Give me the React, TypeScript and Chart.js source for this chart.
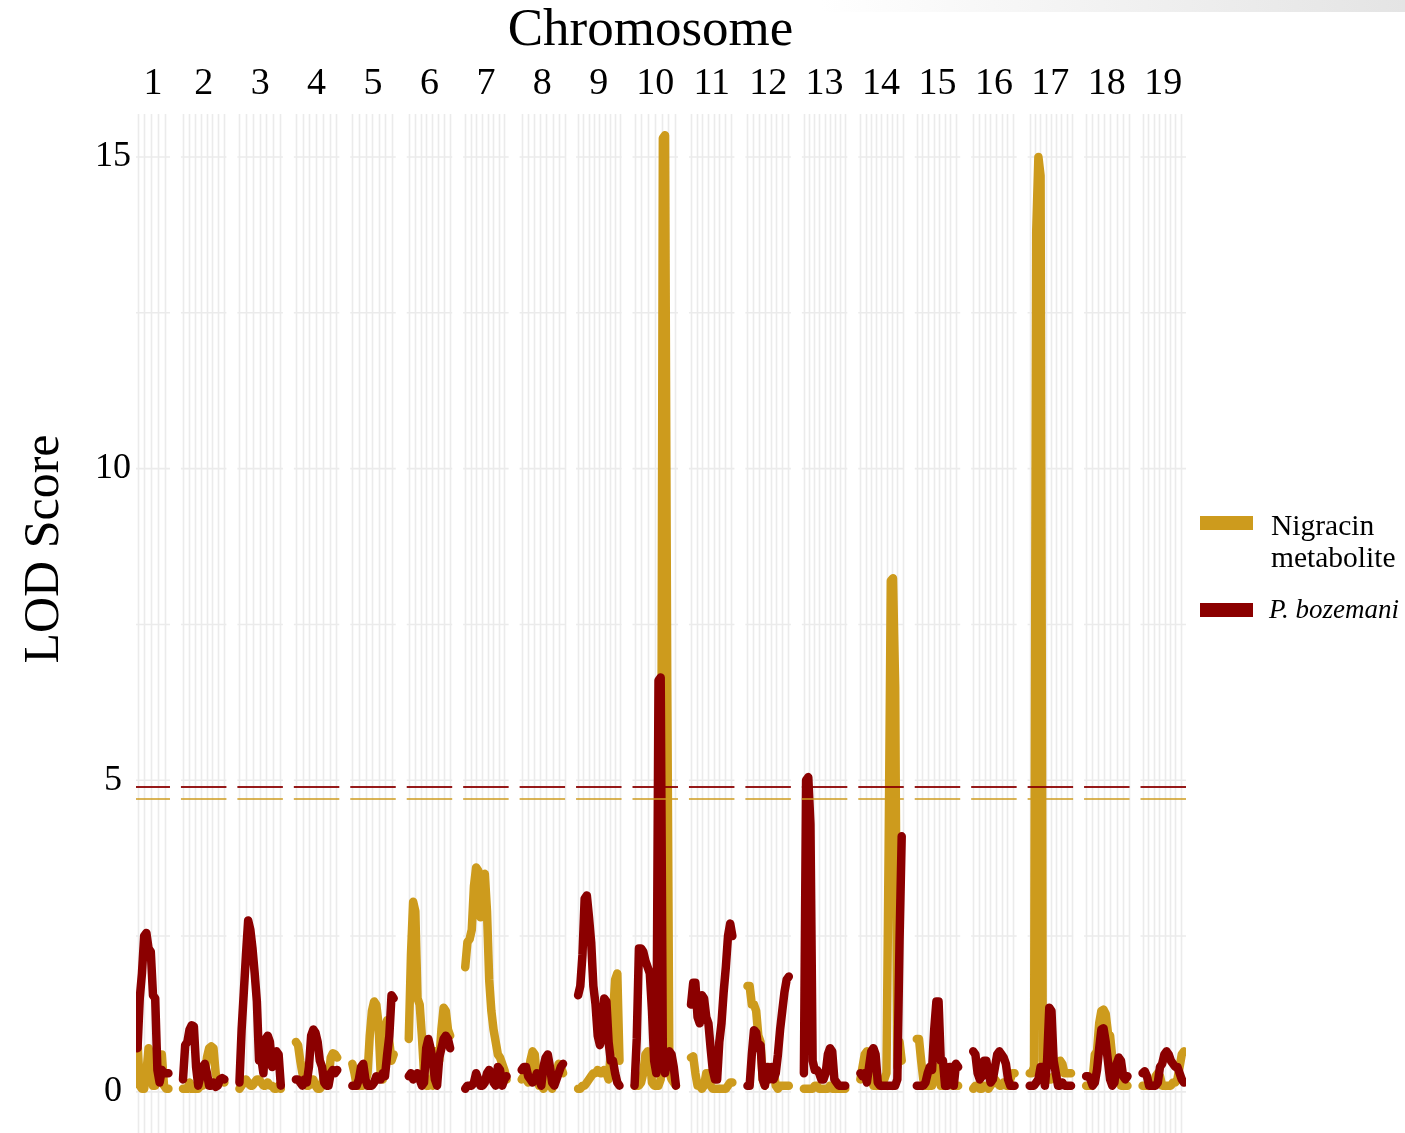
import React, { useEffect, useRef } from 'react';
import { Chart, registerables } from 'chart.js';

Chart.register(...registerables);

// ---------------- data ----------------
const CHROMOSOMES = ['1', '2', '3', '4', '5', '6', '7', '8', '9', '10', '11', '12', '13', '14', '15', '16', '17', '18', '19'];
const CHR_LENGTHS_CM = [62, 83, 83, 83, 83, 83, 83, 83, 83, 83, 83, 83, 83, 83, 83, 83, 83, 83, 83];

// LOD profiles, evenly spaced markers along each chromosome
const NIGRACIN_LOD: number[][] = [
  [0.8, 0.1, 0.05, 0.05, 0.3, 0.7, 0.55, 0.1, 0.1, 0.3, 0.6, 0.6, 0.1, 0.05, 0.05],
  [0.05, 0.05, 0.05, 0.15, 0.05, 0.05, 0.05, 0.05, 0.1, 0.1, 0.3, 0.55, 0.7, 0.73, 0.7, 0.3, 0.15, 0.2, 0.2, 0.15],
  [0.05, 0.1, 0.15, 0.2, 0.15, 0.1, 0.1, 0.15, 0.2, 0.2, 0.15, 0.1, 0.1, 0.15, 0.1, 0.1, 0.05, 0.05, 0.1, 0.05],
  [0.8, 0.75, 0.5, 0.3, 0.2, 0.1, 0.1, 0.15, 0.2, 0.1, 0.05, 0.05, 0.1, 0.3, 0.3, 0.2, 0.55, 0.62, 0.6, 0.55],
  [0.45, 0.3, 0.1, 0.1, 0.1, 0.1, 0.15, 0.3, 0.9, 1.3, 1.45, 1.4, 1.1, 0.3, 0.2, 1.0, 1.15, 0.8, 0.5, 0.6],
  [0.85, 2.2, 3.05, 2.9, 1.5, 1.4, 0.9, 0.3, 0.1, 0.1, 0.2, 0.1, 0.65, 0.6, 0.5, 1.0, 1.35, 1.3, 1.0, 0.9],
  [2.0, 2.4, 2.45, 2.6, 3.3, 3.6, 3.55, 2.8, 3.4, 3.5, 2.9, 1.8, 1.3, 1.0, 0.8, 0.6, 0.55, 0.45, 0.35, 0.2],
  [0.2, 0.25, 0.2, 0.15, 0.5, 0.65, 0.6, 0.2, 0.1, 0.1, 0.05, 0.1, 0.3, 0.2, 0.05, 0.15, 0.3, 0.45, 0.4, 0.3],
  [0.05, 0.05, 0.1, 0.1, 0.15, 0.2, 0.25, 0.3, 0.3, 0.35, 0.3, 0.3, 0.35, 0.3, 0.2, 0.6, 1.2, 1.8, 1.9, 0.5],
  [0.1, 0.1, 0.1, 0.15, 0.3, 0.6, 0.65, 0.55, 0.15, 0.1, 0.1, 0.1, 0.2, 15.3, 15.35, 6.6, 0.3, 0.2, 0.15, 0.1],
  [0.55, 0.57, 0.3, 0.1, 0.1, 0.05, 0.1, 0.3, 0.3, 0.1, 0.05, 0.05, 0.05, 0.05, 0.05, 0.05, 0.05, 0.1, 0.15, 0.15],
  [1.7, 1.7, 1.4, 1.4, 1.3, 0.9, 0.8, 0.2, 0.1, 0.35, 0.4, 0.3, 0.35, 0.1, 0.05, 0.1, 0.1, 0.1, 0.1, 0.1],
  [0.05, 0.05, 0.05, 0.05, 0.05, 0.1, 0.1, 0.05, 0.05, 0.05, 0.05, 0.05, 0.1, 0.05, 0.05, 0.05, 0.05, 0.05, 0.05, 0.05],
  [0.2, 0.4, 0.6, 0.65, 0.5, 0.2, 0.1, 0.1, 0.1, 0.1, 0.15, 0.2, 0.3, 3.9, 8.2, 8.24, 6.5, 0.4, 0.8, 0.5],
  [0.85, 0.85, 0.5, 0.2, 0.1, 0.1, 0.1, 0.1, 0.3, 0.4, 0.35, 0.1, 0.1, 0.1, 0.15, 0.15, 0.1, 0.1, 0.1, 0.1],
  [0.05, 0.1, 0.1, 0.05, 0.05, 0.1, 0.1, 0.05, 0.1, 0.15, 0.2, 0.15, 0.1, 0.1, 0.15, 0.1, 0.1, 0.2, 0.3, 0.3],
  [0.3, 0.3, 0.4, 13.8, 15.0, 14.7, 0.5, 0.25, 0.2, 0.2, 0.2, 0.25, 0.2, 0.35, 0.5, 0.45, 0.3, 0.3, 0.3, 0.3],
  [0.1, 0.1, 0.1, 0.2, 0.6, 0.65, 1.1, 1.3, 1.32, 1.25, 0.95, 0.9, 0.55, 0.5, 0.5, 0.3, 0.1, 0.1, 0.1, 0.1],
  [0.1, 0.1, 0.1, 0.1, 0.1, 0.1, 0.25, 0.3, 0.25, 0.1, 0.1, 0.1, 0.1, 0.1, 0.15, 0.15, 0.2, 0.4, 0.6, 0.65],
];

const BOZEMANI_LOD: number[][] = [
  [0.7, 1.5, 1.9, 2.5, 2.55, 2.3, 2.25, 1.55, 1.5, 0.35, 0.15, 0.35, 0.3, 0.3, 0.3],
  [0.2, 0.75, 0.8, 1.0, 1.07, 1.05, 0.4, 0.1, 0.25, 0.4, 0.45, 0.3, 0.1, 0.1, 0.15, 0.08, 0.1, 0.2, 0.22, 0.2],
  [0.15, 1.0, 1.6, 2.2, 2.75, 2.6, 2.3, 1.9, 1.45, 0.5, 0.55, 0.3, 0.85, 0.9, 0.8, 0.4, 0.55, 0.65, 0.6, 0.1],
  [0.2, 0.2, 0.15, 0.1, 0.2, 0.15, 0.4, 0.9, 1.0, 0.95, 0.8, 0.5, 0.4, 0.15, 0.1, 0.1, 0.3, 0.35, 0.3, 0.35],
  [0.1, 0.1, 0.1, 0.2, 0.4, 0.45, 0.2, 0.1, 0.1, 0.1, 0.15, 0.25, 0.2, 0.2, 0.3, 0.25, 0.6, 0.9, 1.55, 1.5],
  [0.25, 0.3, 0.2, 0.25, 0.3, 0.2, 0.1, 0.15, 0.7, 0.85, 0.7, 0.5, 0.2, 0.1, 0.55, 0.7, 0.85, 0.9, 0.85, 0.7],
  [0.05, 0.1, 0.1, 0.1, 0.15, 0.3, 0.2, 0.1, 0.1, 0.15, 0.3, 0.35, 0.3, 0.15, 0.1, 0.4, 0.35, 0.1, 0.2, 0.25],
  [0.35, 0.4, 0.4, 0.25, 0.2, 0.15, 0.2, 0.3, 0.2, 0.1, 0.4, 0.55, 0.6, 0.4, 0.15, 0.1, 0.2, 0.3, 0.4, 0.45],
  [1.55, 1.7, 2.2, 3.1, 3.15, 2.8, 2.4, 1.7, 1.4, 0.9, 0.75, 0.9, 1.5, 1.45, 0.8, 0.5, 0.5, 0.3, 0.15, 0.1],
  [0.1, 0.85, 2.3, 2.3, 2.25, 2.1, 2.0, 1.9, 1.3, 0.5, 0.3, 6.6, 6.65, 0.5, 0.3, 0.5, 0.65, 0.6, 0.4, 0.1],
  [1.4, 1.75, 1.75, 1.2, 1.1, 1.55, 1.5, 1.2, 1.1, 0.7, 0.35, 0.2, 0.2, 0.8, 1.1, 1.6, 2.0, 2.5, 2.7, 2.5],
  [0.1, 0.1, 0.6, 0.99, 0.95, 0.7, 0.75, 0.2, 0.1, 0.4, 0.2, 0.4, 0.2, 0.3, 0.6, 1.0, 1.3, 1.6, 1.8, 1.85],
  [0.3, 5.0, 5.05, 4.3, 0.5, 0.35, 0.35, 0.3, 0.2, 0.2, 0.3, 0.6, 0.7, 0.65, 0.2, 0.15, 0.1, 0.1, 0.1, 0.1],
  [0.3, 0.25, 0.3, 0.15, 0.4, 0.65, 0.7, 0.6, 0.15, 0.1, 0.1, 0.1, 0.1, 0.1, 0.1, 0.1, 0.1, 0.2, 2.4, 4.1],
  [0.1, 0.1, 0.1, 0.1, 0.15, 0.3, 0.4, 0.35, 1.0, 1.45, 1.45, 0.5, 0.5, 0.1, 0.1, 0.4, 0.4, 0.1, 0.45, 0.4],
  [0.65, 0.6, 0.3, 0.2, 0.25, 0.5, 0.5, 0.3, 0.15, 0.2, 0.4, 0.6, 0.65, 0.6, 0.55, 0.45, 0.2, 0.1, 0.1, 0.1],
  [0.1, 0.1, 0.1, 0.15, 0.2, 0.4, 0.4, 0.1, 0.5, 1.35, 1.3, 0.5, 0.3, 0.1, 0.1, 0.15, 0.1, 0.1, 0.1, 0.1],
  [0.25, 0.25, 0.2, 0.1, 0.15, 0.35, 0.7, 1.0, 1.02, 0.8, 0.5, 0.2, 0.1, 0.15, 0.45, 0.55, 0.5, 0.25, 0.2, 0.25],
  [0.3, 0.33, 0.25, 0.1, 0.1, 0.1, 0.1, 0.15, 0.4, 0.45, 0.6, 0.65, 0.6, 0.5, 0.45, 0.4, 0.4, 0.3, 0.2, 0.15],
];

const THRESHOLD_NIGRACIN = 4.7;
const THRESHOLD_BOZEMANI = 4.89;
const Y_TICKS = [0, 5, 10, 15];
const Y_GRID = [0, 2.5, 5, 7.5, 10, 12.5, 15];

// ---------------- style / layout config ----------------
const GAP_CM = 22;
const EXPAND = 0.05;
const VGRID_STEP_CM = [13.6, 11.8, 13.5, 13.5, 13.3, 11.8, 11.2, 12.4, 10.6, 13.6, 11.4, 11.6, 10.4, 10.6, 11.2, 11.4, 10.6, 12.2, 11.0];
const GOLD = '#CD9B1D';
const DARKRED = '#8B0000';
const FONT = "'Liberation Serif', 'Times New Roman', serif";

type Panel = { start: number; dataStart: number; len: number; end: number };

const PANELS: Panel[] = (() => {
  const out: Panel[] = [];
  let cursor = 0;
  CHR_LENGTHS_CM.forEach((len) => {
    const start = cursor;
    const dataStart = start + EXPAND * len;
    const end = dataStart + len + EXPAND * len;
    out.push({ start, dataStart, len, end });
    cursor = end + GAP_CM;
  });
  return out;
})();
const X_MAX = PANELS[PANELS.length - 1].end;

function buildSeries(values: number[][]) {
  const pts: { x: number; y: number | null }[] = [];
  values.forEach((arr, i) => {
    const p = PANELS[i];
    const step = p.len / (arr.length - 1);
    arr.forEach((v, k) => pts.push({ x: p.dataStart + k * step, y: v }));
    pts.push({ x: p.end + GAP_CM / 2, y: null });
  });
  return pts;
}

function buildThreshold(t: number) {
  const pts: { x: number; y: number | null }[] = [];
  PANELS.forEach((p) => {
    pts.push({ x: p.start, y: t });
    pts.push({ x: p.end, y: t });
    pts.push({ x: p.end + GAP_CM / 2, y: null });
  });
  return pts;
}

const panelGridPlugin = {
  id: 'panelGrid',
  beforeDatasetsDraw(chart: any) {
    const { ctx, chartArea, scales } = chart;
    const xs = scales.x;
    const ys = scales.y;
    ctx.save();
    ctx.strokeStyle = '#ebebeb';
    ctx.lineWidth = 1.6;
    PANELS.forEach((p, i) => {
      const left = xs.getPixelForValue(p.start);
      const right = xs.getPixelForValue(p.end);
      const step = VGRID_STEP_CM[i];
      for (let v = p.dataStart; v <= p.end; v += step) {
        const px = Math.round(xs.getPixelForValue(v)) + 0.5;
        ctx.beginPath();
        ctx.moveTo(px, chartArea.top);
        ctx.lineTo(px, chartArea.bottom);
        ctx.stroke();
      }
      Y_GRID.forEach((g) => {
        const py = ys.getPixelForValue(g);
        ctx.beginPath();
        ctx.moveTo(left, py);
        ctx.lineTo(right, py);
        ctx.stroke();
      });
    });
    ctx.restore();
  },
};

const titlesPlugin = {
  id: 'titles',
  afterDraw(chart: any) {
    const { ctx } = chart;
    ctx.save();
    ctx.fillStyle = '#000';
    ctx.font = `53px ${FONT}`;
    ctx.textAlign = 'center';
    ctx.textBaseline = 'alphabetic';
    ctx.fillText('Chromosome', 650.5, 45);
    ctx.translate(58, 549);
    ctx.rotate(-Math.PI / 2);
    ctx.font = `50px ${FONT}`;
    ctx.fillText('LOD Score', 0, 0);
    ctx.restore();
  },
};

export default function App() {
  const canvasRef = useRef<HTMLCanvasElement | null>(null);

  useEffect(() => {
    if (!canvasRef.current) return;
    const chart = new Chart(canvasRef.current, {
      type: 'line',
      data: {
        datasets: [
          {
            label: 'Nigracin metabolite threshold',
            data: buildThreshold(THRESHOLD_NIGRACIN),
            borderColor: 'rgba(205,155,29,0.75)',
            borderWidth: 2,
            pointRadius: 0,
            spanGaps: false,
            order: 0,
          },
          {
            label: 'P. bozemani threshold',
            data: buildThreshold(THRESHOLD_BOZEMANI),
            borderColor: 'rgba(139,0,0,0.9)',
            borderWidth: 2,
            pointRadius: 0,
            spanGaps: false,
            order: 0,
          },
          {
            label: 'P. bozemani',
            data: buildSeries(BOZEMANI_LOD),
            borderColor: DARKRED,
            borderWidth: 8.5,
            borderCapStyle: 'round',
            borderJoinStyle: 'round',
            pointRadius: 0,
            tension: 0,
            spanGaps: false,
            order: 1,
          },
          {
            label: 'Nigracin metabolite',
            data: buildSeries(NIGRACIN_LOD),
            borderColor: GOLD,
            borderWidth: 8.5,
            borderCapStyle: 'round',
            borderJoinStyle: 'round',
            pointRadius: 0,
            tension: 0,
            spanGaps: false,
            order: 2,
          },
        ],
      },
      options: {
        responsive: false,
        animation: false,
        events: [],
        layout: { padding: { left: 0, right: 219, top: 0, bottom: 0 } },
        plugins: { legend: { display: false }, tooltip: { enabled: false }, title: { display: false } },
        scales: {
          x: {
            type: 'linear',
            position: 'top',
            min: 0,
            max: X_MAX,
            grid: { display: false, drawTicks: false },
            border: { display: false },
            afterBuildTicks: (s: any) => {
              s.ticks = PANELS.map((p) => ({ value: (p.start + p.end) / 2 }));
            },
            afterFit: (s: any) => {
              s.height = 114;
              s.paddingLeft = 0;
              s.paddingRight = 0;
            },
            ticks: {
              autoSkip: false,
              maxRotation: 0,
              minRotation: 0,
              padding: 7,
              color: '#000',
              font: { family: FONT, size: 38 },
              callback: (_v: any, i: number) => CHROMOSOMES[i],
            },
          },
          y: {
            type: 'linear',
            min: -0.66,
            max: 15.69,
            grid: { display: false, drawTicks: false },
            border: { display: false },
            afterBuildTicks: (s: any) => {
              s.ticks = Y_TICKS.map((v) => ({ value: v }));
            },
            afterFit: (s: any) => {
              s.width = 136;
              s.paddingTop = 0;
              s.paddingBottom = 0;
            },
            ticks: {
              crossAlign: 'center',
              padding: 5,
              color: '#000',
              font: { family: FONT, size: 36 },
              callback: (v: any) => String(v),
            },
          },
        },
      },
      plugins: [panelGridPlugin, titlesPlugin],
    } as any);
    return () => chart.destroy();
  }, []);

  const legendText: React.CSSProperties = {
    position: 'absolute',
    fontFamily: FONT,
    color: '#000',
    whiteSpace: 'nowrap',
  };

  return (
    <div style={{ position: 'fixed', left: 0, top: 0, width: 1405, height: 1133, background: '#fff', overflow: 'hidden' }}>
      <div
        style={{
          position: 'absolute',
          left: 820,
          top: 0,
          width: 585,
          height: 12,
          background: 'linear-gradient(to right, rgba(232,232,232,0), rgba(228,228,228,1))',
        }}
      />
      <canvas ref={canvasRef} width={1405} height={1133} style={{ position: 'absolute', left: 0, top: 0 }} />
      <div style={{ position: 'absolute', left: 1200, top: 516, width: 53, height: 14, background: GOLD }} />
      <div style={{ ...legendText, left: 1271, top: 509, fontSize: 29.5, lineHeight: '32px' }}>
        Nigracin
        <br />
        metabolite
      </div>
      <div style={{ position: 'absolute', left: 1200, top: 603, width: 53, height: 14, background: DARKRED }} />
      <div style={{ ...legendText, left: 1269, top: 593, fontSize: 27, lineHeight: '32px', fontStyle: 'italic' }}>
        P. bozemani
      </div>
    </div>
  );
}
